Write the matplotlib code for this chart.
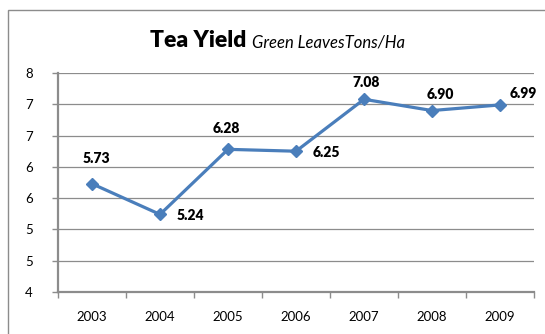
import matplotlib
matplotlib.use("Agg")
import matplotlib.pyplot as plt
import numpy as np
from matplotlib.patches import Rectangle
from matplotlib.ticker import FuncFormatter, FixedLocator

years = ["2003", "2004", "2005", "2006", "2007", "2008", "2009"]
tea_yield = [5.73, 5.24, 6.28, 6.25, 7.08, 6.90, 6.99]

# where each value label sits relative to its marker (points)
label_offsets = [(3, 18), (22, -1), (-1.5, 15), (22, -1), (1.5, 12), (6, 11.5), (17, 8)]

plt.rcParams['font.family'] = ['Lato', 'DejaVu Sans']

fig = plt.figure(figsize=(5.45, 3.34), dpi=100)
fig.patch.set_facecolor("white")

# chart border
fig.patches.append(Rectangle((8 / 545, -0.2), 1.2, 1.2 - 10 / 334,
                             transform=fig.transFigure, fill=False,
                             edgecolor="#8c8c8c", lw=1.0))

ax = fig.add_axes([58 / 545, 1 - 292 / 334, 476 / 545, 219 / 334])

x = np.arange(len(years))
ax.plot(x, tea_yield, color="#4a7ebb", lw=2.3, marker="D", markersize=6.5,
        zorder=3, clip_on=False)

for xi, v, off in zip(x, tea_yield, label_offsets):
    ax.annotate(f"{v:.2f}", (xi, v), xytext=off, textcoords="offset points",
                ha="center", va="center", fontsize=10, fontweight="heavy",
                color="black")

ax.set_xlim(-0.5, len(years) - 0.5)
ax.set_ylim(4, 7.5)
ax.set_yticks(np.arange(4, 7.51, 0.5))
ax.yaxis.set_major_formatter(FuncFormatter(lambda v, p: str(int(np.floor(v + 0.5)))))
ax.grid(axis="y", color="#8c8c8c", lw=0.9)
ax.set_axisbelow(True)

ax.set_xticks(x)
ax.set_xticklabels(years)
ax.xaxis.set_minor_locator(FixedLocator(np.arange(-0.5, len(years), 1)))
ax.tick_params(axis="x", which="major", length=0, pad=14, labelsize=9.5)
ax.tick_params(axis="x", which="minor", length=4, width=1, color="#8c8c8c")
ax.tick_params(axis="y", length=4, width=1, color="#8c8c8c", pad=14, labelsize=9.5)

for s in ["top", "right"]:
    ax.spines[s].set_visible(False)
for s in ["left", "bottom"]:
    ax.spines[s].set_color("#8c8c8c")
    ax.spines[s].set_linewidth(1.6)

fig.text(246 / 545, 1 - 47 / 334, "Tea Yield", ha="right", va="baseline",
         fontsize=16.5, fontweight="heavy")
fig.text(252 / 545, 1 - 47 / 334, "Green LeavesTons/Ha", ha="left", va="baseline",
         fontsize=12, style="italic")

fig.savefig("out.png", dpi=100)
